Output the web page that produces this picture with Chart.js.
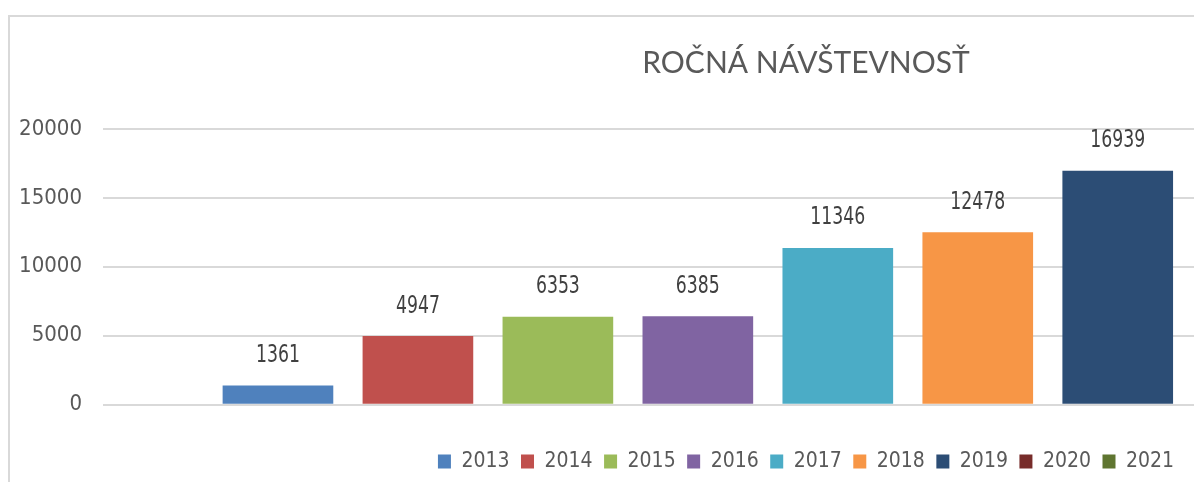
<!DOCTYPE html>
<html lang="sk">
<head>
  <meta charset="UTF-8">
  <title>Ročná návštevnosť</title>
  <style>
    body {
      margin: 0;
      background: #fff;
      overflow: hidden;
    }

    #frame {
      position: absolute;
      left: 8px;
      top: 15px;
      width: 1604px;
      height: 480px;
      border: 2px solid #d9d9d9;
    }
  </style>
</head>
<body>
  <div id="frame">
    <canvas id="barChart" width="1604" height="465"></canvas>
  </div>

  <script src="https://cdn.jsdelivr.net/npm/chart.js"></script>
  <script>
    const years = [2013, 2014, 2015, 2016, 2017, 2018, 2019, 2020, 2021];
    const visits = [1361, 4947, 6353, 6385, 11346, 12478, 16939, null, null];
    const colors = ['#4f81bd', '#c0504d', '#9bbb59', '#8064a2', '#4bacc6', '#f79646', '#2c4d75', '#772c2a', '#5f7530'];
    const yTicks = [0, 5000, 10000, 15000, 20000];

    const numFont = "'DejaVu Sans Condensed', 'DejaVu Sans', sans-serif";
    const grey = '#595959';

    // one series per year, like the Excel original
    const datasets = years.map((y, i) => ({
      label: String(y),
      data: visits[i] == null ? [] : [{ x: y, y: visits[i] }],
      backgroundColor: colors[i],
      borderWidth: 0
    }));

    // value on top of each bar (squeezed a bit, the source font is narrow)
    const valueLabels = {
      id: 'valueLabels',
      afterDatasetsDraw(chart) {
        const ctx = chart.ctx;
        chart.data.datasets.forEach((ds, i) => {
          chart.getDatasetMeta(i).data.forEach((bar, j) => {
            ctx.save();
            ctx.font = '24px ' + numFont;
            ctx.fillStyle = '#404040';
            ctx.textAlign = 'center';
            ctx.textBaseline = 'middle';
            ctx.translate(bar.x, bar.y - 30);
            ctx.scale(0.8, 1);
            ctx.fillText(ds.data[j].y, 0, 0);
            ctx.restore();
          });
        });
      }
    };

    new Chart(document.getElementById('barChart'), {
      type: 'bar',
      data: { datasets: datasets },
      options: {
        responsive: false,
        animation: false,
        layout: { padding: { left: 0, right: 12, top: 0, bottom: 0 } },
        datasets: {
          bar: { grouped: false, barThickness: 110 }
        },
        plugins: {
          title: {
            display: true,
            text: 'ROČNÁ NÁVŠTEVNOSŤ',
            color: grey,
            font: { family: 'Lato', size: 30, weight: 'normal' },
            padding: { top: 28, bottom: 48 }
          },
          legend: {
            position: 'bottom',
            labels: {
              color: grey,
              font: { family: numFont, size: 21 },
              boxWidth: 13,
              boxHeight: 14,
              padding: 11.5
            }
          },
          tooltip: { enabled: false }
        },
        scales: {
          x: {
            type: 'linear',
            offset: false,
            min: years[0] - 1.25,
            max: years[0] + 9.46,
            grid: { display: false },
            border: { display: false },
            ticks: { display: false },
            afterFit(scale) { scale.height = 35; }
          },
          y: {
            min: 0,
            max: 20000,
            afterBuildTicks(scale) { scale.ticks = yTicks.map(v => ({ value: v })); },
            grid: { color: '#d9d9d9', lineWidth: 2, drawTicks: false },
            border: { display: false },
            ticks: {
              color: grey,
              padding: 21,
              font: { family: numFont, size: 22 },
              callback: v => String(v)
            },
            afterFit(scale) { scale.width = 93; }
          }
        }
      },
      plugins: [valueLabels]
    });
  </script>
</body>
</html>
